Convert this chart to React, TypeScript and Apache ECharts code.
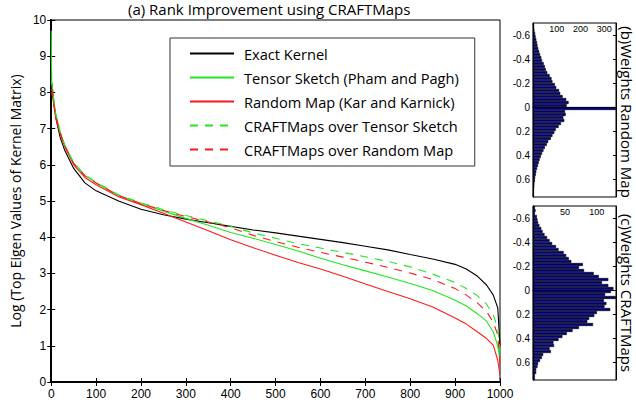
import React, { useEffect, useRef } from "react";
import * as echarts from "echarts";

// ---- main panel: eigenvalue spectra ----
const rankX = [0, 1, 2, 5, 10, 20, 30, 50, 75, 100, 150, 200, 250, 300, 350, 400, 450, 500, 550, 600, 650, 700, 750, 800, 850, 900, 925, 950, 970, 985, 995, 1000];
const exactKernel = [8.3, 8.3, 8.2, 7.8, 7.3, 6.75, 6.4, 5.9, 5.5, 5.28, 5.0, 4.77, 4.62, 4.5, 4.4, 4.3, 4.2, 4.12, 4.03, 3.94, 3.85, 3.75, 3.65, 3.52, 3.4, 3.25, 3.12, 2.92, 2.68, 2.4, 2.05, 1.0];
const tensorSketch = [9.7, 8.3, 8.2, 7.85, 7.4, 6.9, 6.55, 6.05, 5.7, 5.5, 5.15, 4.93, 4.72, 4.52, 4.33, 4.13, 3.97, 3.8, 3.62, 3.42, 3.24, 3.07, 2.9, 2.72, 2.53, 2.26, 2.1, 1.88, 1.68, 1.38, 1.0, 0.6];
const randomMap = [8.0, 8.0, 7.95, 7.7, 7.3, 6.85, 6.5, 6.0, 5.65, 5.45, 5.12, 4.9, 4.66, 4.42, 4.18, 3.93, 3.71, 3.5, 3.3, 3.12, 2.92, 2.71, 2.5, 2.3, 2.07, 1.77, 1.6, 1.38, 1.2, 1.02, 0.6, 0.2];
const craftTensor = [8.3, 8.3, 8.2, 7.85, 7.4, 6.9, 6.55, 6.05, 5.72, 5.52, 5.17, 4.95, 4.76, 4.6, 4.45, 4.3, 4.12, 3.97, 3.82, 3.7, 3.58, 3.46, 3.33, 3.18, 2.98, 2.75, 2.58, 2.38, 2.15, 1.85, 1.5, 0.8];
const craftRandom = [8.1, 8.1, 8.05, 7.75, 7.35, 6.88, 6.52, 6.03, 5.7, 5.5, 5.15, 4.93, 4.74, 4.57, 4.42, 4.26, 4.05, 3.88, 3.72, 3.58, 3.45, 3.31, 3.17, 3.01, 2.83, 2.58, 2.4, 2.18, 1.95, 1.65, 1.3, 0.5];

const seriesNames = [
  "Exact Kernel",
  "Tensor Sketch (Pham and Pagh)",
  "Random Map (Kar and Karnick)",
  "CRAFTMaps over Tensor Sketch",
  "CRAFTMaps over Random Map",
];

// ---- histograms (bins of width 0.025 from -0.7 to 0.75) ----
const binCenters = Array.from({ length: 58 }, (_, i) => (-0.6875 + i * 0.025).toFixed(4));
const weightsRandomMap = [2, 4, 6, 9, 11, 14, 17, 19, 22, 26, 30, 35, 38, 45, 50, 54, 60, 70, 78, 82, 92, 98, 110, 115, 125, 140, 150, 142, 350, 135, 138, 128, 132, 118, 108, 96, 90, 82, 75, 64, 58, 50, 44, 38, 33, 28, 24, 21, 17, 14, 12, 9, 8, 6, 5, 3, 3, 2];
const weightsCraft = [3, 4, 3, 6, 7, 8, 10, 13, 15, 18, 22, 26, 30, 36, 40, 48, 52, 56, 60, 78, 72, 80, 95, 103, 118, 108, 118, 126, 122, 113, 130, 111, 115, 112, 121, 100, 96, 88, 85, 94, 72, 62, 53, 46, 40, 32, 33, 26, 28, 16, 14, 11, 8, 7, 5, 5, 3, 3];
const histYTicks = [-0.6, -0.4, -0.2, 0, 0.2, 0.4, 0.6];
const histBTicks = [100, 200, 300];
const histCTicks = [50, 100];

const FONT_SANS = "Open Sans";
const FONT_TICK = "Liberation Sans";
const GREEN = "#22e622";
const RED = "#ff1a1a";

function histAxes(gridIndex: number, xMax: number, xTicks: number[]) {
  const xAxes = [
    {
      gridIndex,
      type: "value",
      position: "top",
      min: 0,
      max: xMax,
      axisLine: { show: true, lineStyle: { color: "#000", width: 1 } },
      axisTick: { show: false },
      splitLine: { show: false },
      axisLabel: {
        inside: true,
        margin: 1,
        customValues: xTicks,
        color: "#000",
        fontSize: 9,
        fontFamily: FONT_TICK,
      },
    },
  ];
  const yAxes = [
    {
      gridIndex,
      type: "category",
      data: binCenters,
      inverse: true,
      show: false,
      position: "left",
      boundaryGap: true,
    },
    {
      gridIndex,
      type: "value",
      min: -0.7,
      max: 0.75,
      inverse: true,
      position: "left",
      axisLine: { show: true, lineStyle: { color: "#000", width: 1.2 } },
      axisTick: { show: false },
      splitLine: { show: false },
      axisLabel: {
        customValues: histYTicks,
        margin: 3,
        color: "#000",
        fontSize: 10,
        fontFamily: FONT_TICK,
      },
    },
    {
      gridIndex,
      type: "value",
      min: -0.7,
      max: 0.75,
      inverse: true,
      position: "right",
      axisLine: { show: true, lineStyle: { color: "#000", width: 1 } },
      axisTick: { show: true, inside: true, length: 3, customValues: histYTicks, lineStyle: { color: "#000" } },
      splitLine: { show: false },
      axisLabel: { show: false },
    },
  ];
  return { xAxes, yAxes };
}

export default function App() {
  const ref = useRef<HTMLDivElement>(null);

  useEffect(() => {
    if (!ref.current) return;
    const chart = echarts.init(ref.current, null, { renderer: "svg" });

    const lineData = (ys: number[]) => rankX.map((x, i) => [x, ys[i]]);
    const lineSeries = [
      { name: seriesNames[0], ys: exactKernel, color: "#000", dashed: false },
      { name: seriesNames[1], ys: tensorSketch, color: GREEN, dashed: false },
      { name: seriesNames[2], ys: randomMap, color: RED, dashed: false },
      { name: seriesNames[3], ys: craftTensor, color: GREEN, dashed: true },
      { name: seriesNames[4], ys: craftRandom, color: RED, dashed: true },
    ].map((s) => ({
      name: s.name,
      type: "line",
      xAxisIndex: 0,
      yAxisIndex: 0,
      data: lineData(s.ys),
      symbol: "none",
      showSymbol: false,
      color: s.color,
      lineStyle: { color: s.color, width: 1.1, type: s.dashed ? [8, 7] : "solid" },
      z: 3,
    }));

    const b = histAxes(1, 350, histBTicks);
    const c = histAxes(2, 130, histCTicks);

    const tickStyle = { color: "#000", fontSize: 12, fontFamily: FONT_TICK };

    const option = {
      animation: false,
      textStyle: { fontFamily: FONT_TICK },
      title: {
        text: "(a) Rank Improvement using CRAFTMaps",
        left: 128,
        top: 1,
        padding: 0,
        textStyle: { fontSize: 15, fontWeight: "normal", color: "#000", fontFamily: FONT_SANS },
      },
      legend: {
        data: seriesNames,
        orient: "vertical",
        left: 170,
        top: 38,
        itemWidth: 44,
        itemHeight: 14,
        itemGap: 9,
        padding: [8, 16, 9, 19],
        borderColor: "#333",
        borderWidth: 1,
        backgroundColor: "#fff",
        itemStyle: { opacity: 0 },
        textStyle: { fontSize: 14.6, color: "#000", fontFamily: FONT_SANS, padding: [0, 0, 0, 5] },
      },
      grid: [
        { left: 39, top: 20, width: 461, height: 362, show: true, borderColor: "#000", borderWidth: 1, backgroundColor: "transparent" },
        { left: 533, top: 23, width: 83, height: 174, show: true, borderColor: "#000", borderWidth: 1, backgroundColor: "transparent" },
        { left: 533, top: 206, width: 83, height: 174, show: true, borderColor: "#000", borderWidth: 1, backgroundColor: "transparent" },
      ],
      xAxis: [
        {
          gridIndex: 0,
          type: "value",
          min: 0,
          max: 1000,
          interval: 100,
          position: "bottom",
          axisLine: { show: true, lineStyle: { color: "#000", width: 2 } },
          axisTick: { show: true, inside: true, length: 4, lineStyle: { color: "#000" } },
          splitLine: { show: false },
          axisLabel: { ...tickStyle, margin: 6, formatter: (v: number) => String(v) },
        },
        {
          gridIndex: 0,
          type: "value",
          min: 0,
          max: 1000,
          interval: 100,
          position: "top",
          axisLine: { show: true, lineStyle: { color: "#000", width: 1 } },
          axisTick: { show: true, inside: true, length: 4, lineStyle: { color: "#000" } },
          splitLine: { show: false },
          axisLabel: { show: false },
        },
        ...b.xAxes,
        ...c.xAxes,
      ],
      yAxis: [
        {
          gridIndex: 0,
          type: "value",
          min: 0,
          max: 10,
          interval: 1,
          position: "left",
          name: "Log (Top Eigen Values of Kernel Matrix)",
          nameLocation: "middle",
          nameGap: 23,
          nameRotate: 90,
          nameTextStyle: { fontSize: 14, color: "#000", fontFamily: FONT_SANS },
          axisLine: { show: true, lineStyle: { color: "#000", width: 1.5 } },
          axisTick: { show: true, inside: true, length: 4, lineStyle: { color: "#000" } },
          splitLine: { show: false },
          axisLabel: { ...tickStyle, margin: 5 },
        },
        {
          gridIndex: 0,
          type: "value",
          min: 0,
          max: 10,
          interval: 1,
          position: "right",
          axisLine: { show: true, lineStyle: { color: "#000", width: 2 } },
          axisTick: { show: true, inside: true, length: 4, lineStyle: { color: "#000" } },
          splitLine: { show: false },
          axisLabel: { show: false },
        },
        ...b.yAxes,
        ...c.yAxes,
      ],
      series: [
        ...lineSeries,
        {
          name: "hist-b",
          type: "bar",
          xAxisIndex: 2,
          yAxisIndex: 2,
          data: weightsRandomMap,
          barCategoryGap: "0%",
          itemStyle: { color: "#000080", borderColor: "#000", borderWidth: 0.6 },
          silent: true,
        },
        {
          name: "hist-c",
          type: "bar",
          xAxisIndex: 3,
          yAxisIndex: 5,
          data: weightsCraft,
          barCategoryGap: "0%",
          itemStyle: { color: "#000080", borderColor: "#000", borderWidth: 0.6 },
          silent: true,
        },
      ],
      graphic: [
        {
          type: "text",
          x: 627,
          y: 112,
          rotation: -Math.PI / 2,
          style: { text: "(b)Weights Random Map", fontSize: 15, fontFamily: FONT_SANS, fill: "#000", align: "center", verticalAlign: "middle" },
        },
        {
          type: "text",
          x: 627,
          y: 293,
          rotation: -Math.PI / 2,
          style: { text: "(c)Weights CRAFTMaps", fontSize: 15, fontFamily: FONT_SANS, fill: "#000", align: "center", verticalAlign: "middle" },
        },
      ],
    };

    chart.setOption(option as any);
    return () => chart.dispose();
  }, []);

  return (
    <div
      ref={ref}
      style={{ position: "absolute", left: 0, top: 0, width: 636, height: 411, background: "#fff" }}
    />
  );
}
